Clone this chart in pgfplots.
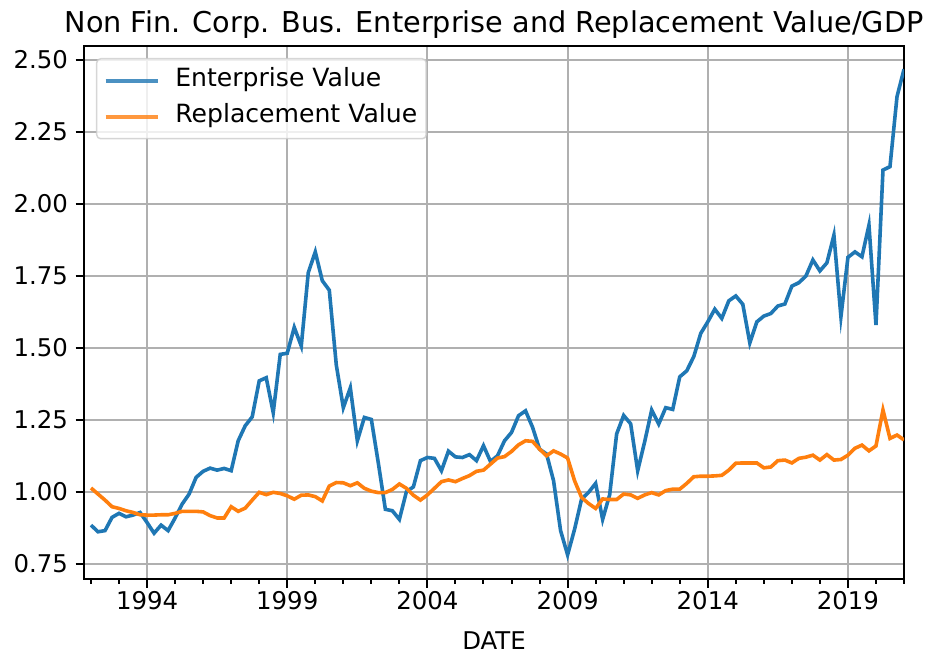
\documentclass[border=0pt]{standalone}
\usepackage{pgfplots}
\usepackage{pgfplotstable}
\usepackage{fontspec}
\setmainfont{DejaVu Sans}
\pgfplotsset{compat=1.18}
\definecolor{mplblue}{HTML}{1F77B4}
\definecolor{mplorange}{HTML}{FF7F0E}
\definecolor{gridgray}{HTML}{B0B0B0}
\definecolor{legedge}{HTML}{CCCCCC}
\pgfplotstableread{
t ev rv
1992.00 0.885 1.014
1992.25 0.862 0.993
1992.50 0.866 0.972
1992.75 0.912 0.949
1993.00 0.926 0.943
1993.25 0.914 0.935
1993.50 0.920 0.929
1993.75 0.929 0.921
1994.00 0.894 0.920
1994.25 0.857 0.920
1994.50 0.885 0.921
1994.75 0.866 0.921
1995.00 0.910 0.926
1995.25 0.958 0.933
1995.50 0.993 0.933
1995.75 1.051 0.933
1996.00 1.072 0.931
1996.25 1.083 0.918
1996.50 1.076 0.910
1996.75 1.082 0.910
1997.00 1.074 0.949
1997.25 1.178 0.933
1997.50 1.230 0.944
1997.75 1.261 0.972
1998.00 1.386 0.999
1998.25 1.397 0.991
1998.50 1.276 0.999
1998.75 1.478 0.995
1999.00 1.482 0.987
1999.25 1.572 0.975
1999.50 1.507 0.989
1999.75 1.762 0.990
2000.00 1.834 0.984
2000.25 1.734 0.969
2000.50 1.701 1.021
2000.75 1.441 1.033
2001.00 1.293 1.032
2001.25 1.362 1.022
2001.50 1.178 1.032
2001.75 1.259 1.013
2002.00 1.252 1.003
2002.25 1.100 0.998
2002.50 0.940 0.998
2002.75 0.935 1.009
2003.00 0.905 1.028
2003.25 1.001 1.013
2003.50 1.018 0.989
2003.75 1.109 0.972
2004.00 1.120 0.990
2004.25 1.117 1.013
2004.50 1.074 1.036
2004.75 1.142 1.042
2005.00 1.122 1.036
2005.25 1.120 1.047
2005.50 1.130 1.057
2005.75 1.109 1.072
2006.00 1.161 1.076
2006.25 1.106 1.097
2006.50 1.126 1.118
2006.75 1.178 1.123
2007.00 1.207 1.141
2007.25 1.265 1.164
2007.50 1.282 1.178
2007.75 1.225 1.176
2008.00 1.149 1.149
2008.25 1.132 1.126
2008.50 1.039 1.143
2008.75 0.866 1.132
2009.00 0.782 1.118
2009.25 0.871 1.039
2009.50 0.976 0.981
2009.75 0.999 0.960
2010.00 1.030 0.943
2010.25 0.905 0.976
2010.50 0.990 0.974
2010.75 1.202 0.974
2011.00 1.266 0.993
2011.25 1.237 0.990
2011.50 1.074 0.978
2011.75 1.175 0.990
2012.00 1.285 0.998
2012.25 1.236 0.990
2012.50 1.293 1.005
2012.75 1.287 1.010
2013.00 1.400 1.010
2013.25 1.421 1.030
2013.50 1.470 1.053
2013.75 1.551 1.055
2014.00 1.591 1.055
2014.25 1.635 1.056
2014.50 1.603 1.058
2014.75 1.664 1.076
2015.00 1.681 1.100
2015.25 1.652 1.101
2015.50 1.518 1.101
2015.75 1.591 1.101
2016.00 1.611 1.084
2016.25 1.620 1.087
2016.50 1.646 1.109
2016.75 1.653 1.111
2017.00 1.715 1.101
2017.25 1.727 1.117
2017.50 1.750 1.121
2017.75 1.806 1.128
2018.00 1.768 1.111
2018.25 1.796 1.130
2018.50 1.892 1.111
2018.75 1.609 1.113
2019.00 1.815 1.128
2019.25 1.834 1.152
2019.50 1.817 1.163
2019.75 1.927 1.143
2020.00 1.580 1.160
2020.25 2.118 1.285
2020.50 2.130 1.186
2020.75 2.373 1.198
2021.00 2.468 1.181
}\datatable
\begin{document}
\begin{tikzpicture}
\path[use as bounding box] (-84bp,-77bp) rectangle (854bp,579bp);
\begin{axis}[
  at={(0,0)}, anchor=south west,
  scale only axis,
  width=820bp, height=533bp,
  xmin=1991.75, xmax=2021.0,
  ymin=0.698, ymax=2.549,
  xtick={1994,1999,2004,2009,2014,2019},
  minor xtick={1992,1993,...,2021},
  ytick={0.75,1.00,1.25,1.50,1.75,2.00,2.25,2.50},
  xticklabel style={/pgf/number format/1000 sep={}},
  yticklabel style={xshift=-4bp, /pgf/number format/.cd, fixed, fixed zerofill, precision=2},
  /pgf/number format/assume math mode=true,
  ticklabel style={font=\fontsize{24.5}{28}\selectfont},
  xtick pos=bottom, ytick pos=left,
  tick align=outside,
  major tick length=8.5bp, minor tick length=4.8bp,
  every tick/.style={black, line width=2bp},
  grid=major,
  major grid style={gridgray, line width=2bp},
  axis line style={black, line width=2bp},
  xlabel={DATE},
  xlabel style={font=\fontsize{24.5}{28}\selectfont, yshift=-15bp},
  title={Non Fin. Corp. Bus. Enterprise and Replacement Value/GDP},
  title style={font=\fontsize{28.8}{34}\selectfont, yshift=-2bp},
  legend style={
    at={(axis description cs:0.0146,0.9775)}, anchor=north west,
    draw=legedge, draw opacity=0.8, fill=white, fill opacity=0.8, text opacity=1,
    rounded corners=4bp, line width=1.5bp,
    font=\fontsize{25.2}{29}\selectfont,
    inner xsep=7bp, inner ysep=8bp,
    row sep=8bp,
    nodes={inner xsep=2bp, inner ysep=2bp, text height=18bp, text depth=6bp}},
  legend cell align=left,
  legend image code/.code={\draw[#1, line width=3.6bp] (0bp,0bp) -- (52bp,0bp); \path (66bp,0bp);},
]
\addplot[mplblue, line width=3.6bp] table[x=t, y=ev] {\datatable};
\addlegendentry{Enterprise Value}
\addplot[mplorange, line width=3.6bp] table[x=t, y=rv] {\datatable};
\addlegendentry{Replacement Value}
\end{axis}
\end{tikzpicture}
\end{document}
